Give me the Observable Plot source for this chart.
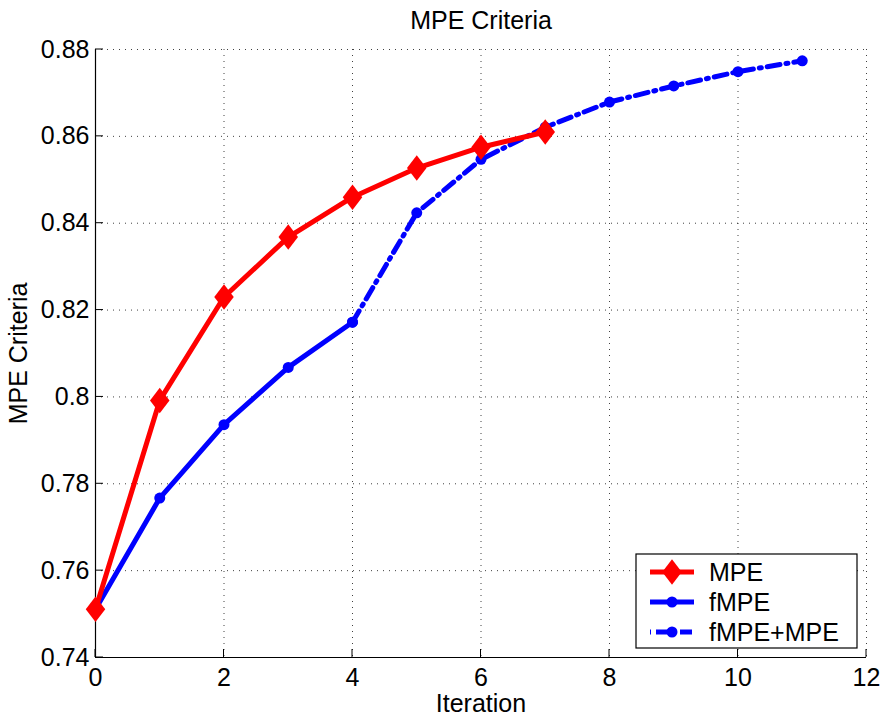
<!DOCTYPE html>
<html>
<head>
<meta charset="utf-8">
<script src="https://cdn.jsdelivr.net/npm/d3@7"></script>
<script src="https://cdn.jsdelivr.net/npm/@observablehq/plot@0.6"></script>
<style>
  html, body { margin: 0; padding: 0; background: #fff; }
  #chart svg { display: block; }
</style>
</head>
<body>
<div id="chart"></div>
<script>
const title = "MPE Criteria";
const xLabel = "Iteration";
const yLabel = "MPE Criteria";
const xTicks = [0, 2, 4, 6, 8, 10, 12];
const yTicks = [0.74, 0.76, 0.78, 0.8, 0.82, 0.84, 0.86, 0.88];
const yTickLabels = ["0.74", "0.76", "0.78", "0.8", "0.82", "0.84", "0.86", "0.88"];

const mpeIter = [0, 1, 2, 3, 4, 5, 6, 7];
const mpeVals = [0.7511, 0.7992, 0.8230, 0.8368, 0.8460, 0.8527, 0.8575, 0.8610];

const fmpeIter = [0, 1, 2, 3, 4];
const fmpeVals = [0.7511, 0.7767, 0.7936, 0.8068, 0.8172];

const comboIter = [4, 5, 6, 7, 8, 9, 10, 11];
const comboVals = [0.8172, 0.8424, 0.8547, 0.8621, 0.8679, 0.8716, 0.8749, 0.8774];

const seriesNames = ["MPE", "fMPE", "fMPE+MPE"];
const seriesColors = ["#ff0000", "#0000ff", "#0000ff"];

const mpe = mpeIter.map((x, i) => ({x, y: mpeVals[i]}));
const fmpe = fmpeIter.map((x, i) => ({x, y: fmpeVals[i]}));
const combo = comboIter.map((x, i) => ({x, y: comboVals[i]}));

const W = 881, H = 716;
const FONT = "'Liberation Sans', Arial, Helvetica, sans-serif";
const FS = 25;
const LW = 5;
const dash = "13,6,2,6";

// MATLAB-like tall diamond
const tallDiamond = {
  draw(ctx, size) {
    const r = Math.sqrt(size / Math.PI);
    const h = r * 1.7, w = r * 1.3;
    ctx.moveTo(0, -h); ctx.lineTo(w, 0); ctx.lineTo(0, h); ctx.lineTo(-w, 0); ctx.closePath();
  }
};

const plot = Plot.plot({
  width: W,
  height: H,
  marginLeft: 95,
  marginRight: 15,
  marginTop: 49,
  marginBottom: 59,
  style: {fontFamily: FONT, fontSize: FS + "px", color: "#000", background: "#fff"},
  x: {domain: [0, 12]},
  y: {domain: [0.74, 0.88]},
  marks: [
    Plot.gridX(xTicks, {stroke: "#000", strokeOpacity: 0.75, strokeDasharray: "1,5", strokeWidth: 1}),
    Plot.gridY(yTicks, {stroke: "#000", strokeOpacity: 0.75, strokeDasharray: "1,5", strokeWidth: 1}),
    Plot.axisX(xTicks, {tickSize: 0, tickPadding: 11, label: xLabel, labelAnchor: "center", labelArrow: "none", labelOffset: 54, fontSize: FS}),
    Plot.axisY(yTicks, {tickSize: 0, tickPadding: 6, tickFormat: (d, i) => yTickLabels[i], label: yLabel, labelAnchor: "center", labelArrow: "none", labelOffset: 86, fontSize: FS}),
    Plot.ruleY([0.74], {stroke: "#000", strokeWidth: 1.2}),
    Plot.ruleX([0], {stroke: "#000", strokeWidth: 1.2}),
    Plot.line(combo, {x: "x", y: "y", stroke: seriesColors[2], strokeWidth: LW, strokeDasharray: dash}),
    Plot.dot(combo, {x: "x", y: "y", fill: seriesColors[2], r: 5.5}),
    Plot.line(fmpe, {x: "x", y: "y", stroke: seriesColors[1], strokeWidth: LW}),
    Plot.dot(fmpe, {x: "x", y: "y", fill: seriesColors[1], r: 5.5}),
    Plot.line(mpe, {x: "x", y: "y", stroke: seriesColors[0], strokeWidth: LW}),
    Plot.dot(mpe, {x: "x", y: "y", fill: seriesColors[0], symbol: tallDiamond, r: 7.5}),
    Plot.text([title], {frameAnchor: "top", lineAnchor: "middle", dy: -29, fontSize: FS, fill: "#000"})
  ]
});

document.getElementById("chart").appendChild(plot);

// inward tick marks and legend, positioned from the plot's own scales
const svg = d3.select(plot);
const sx = plot.scale("x"), sy = plot.scale("y");
const x0 = sx.apply(0), x1 = sx.apply(12), y0 = sy.apply(0.74);
const g = svg.append("g").attr("stroke", "#000").attr("stroke-width", 1);
xTicks.forEach(t => {
  g.append("line").attr("x1", sx.apply(t)).attr("x2", sx.apply(t)).attr("y1", y0).attr("y2", y0 - 8);
});
yTicks.forEach(t => {
  g.append("line").attr("x1", x0).attr("x2", x0 + 8).attr("y1", sy.apply(t)).attr("y2", sy.apply(t));
});

// legend
const lg = svg.append("g").attr("font-family", FONT).attr("font-size", FS).attr("text-anchor", "start");
const bx = x1 - 230, by = y0 - 103, bw = 221, bh = 94;
lg.append("rect").attr("x", bx).attr("y", by).attr("width", bw).attr("height", bh)
  .attr("fill", "#fff").attr("stroke", "#000").attr("stroke-width", 1.2);
seriesNames.forEach((name, i) => {
  const cy = by + 18 + i * 30;
  const lx0 = bx + 14, lx1 = bx + 58, mx = (lx0 + lx1) / 2;
  lg.append("line").attr("x1", lx0).attr("x2", lx1).attr("y1", cy).attr("y2", cy)
    .attr("stroke", seriesColors[i]).attr("stroke-width", LW)
    .attr("stroke-dasharray", i === 2 ? "1,5,12,6" : null);
  if (i === 0) {
    const p = d3.path(); tallDiamond.draw(p, Math.PI * 7.5 * 7.5);
    lg.append("path").attr("d", p.toString()).attr("transform", `translate(${mx},${cy})`).attr("fill", seriesColors[i]);
  } else {
    lg.append("circle").attr("cx", mx).attr("cy", cy).attr("r", 5.5).attr("fill", seriesColors[i]);
  }
  lg.append("text").attr("x", bx + 73).attr("y", cy).attr("dy", "0.35em").attr("fill", "#000").text(name);
});
</script>
</body>
</html>
